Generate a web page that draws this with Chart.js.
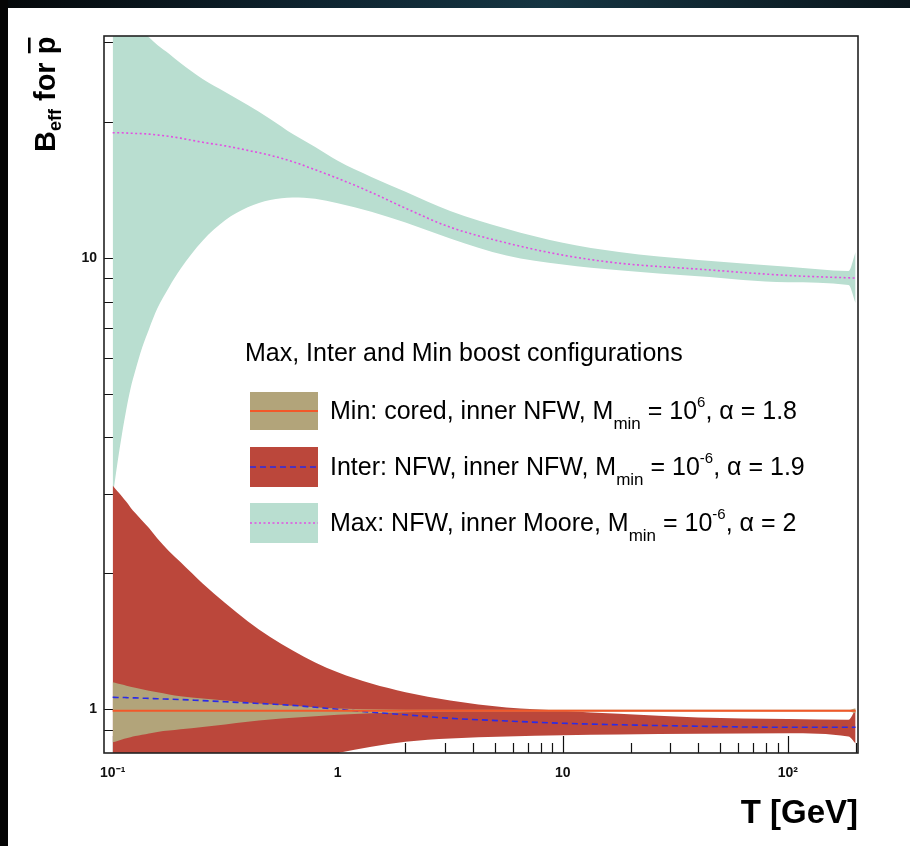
<!DOCTYPE html>
<html><head><meta charset="utf-8">
<script src="https://cdn.jsdelivr.net/npm/chart.js@4"></script>
<style>html,body{margin:0;padding:0;background:#fff;}canvas{display:block;}</style>
</head><body>
<canvas id="c" width="910" height="846"></canvas>
<script>
// ---------- data ----------
const T_GEV = [0.1, 0.105, 0.11, 0.115, 0.12, 0.126, 0.135, 0.145, 0.158, 0.178, 0.2, 0.251, 0.316, 0.398, 0.501, 0.631, 0.794, 1, 1.41, 2, 3.16, 5.62, 10, 17.8, 40, 100, 186, 200];

const MAX_HIGH    = [36.3, 35.6, 35.0, 34.3, 33.6, 33.0, 31.8, 30.8, 29.6, 28.3, 27.0, 24.9, 23.3, 21.8, 20.3, 18.8, 17.6, 16.4, 15.1, 14.0, 12.7, 11.6, 10.8, 10.3, 9.89, 9.55, 9.35, 10.3];
const MAX_CENTRAL = [18.92, 18.92, 18.92, 18.9, 18.88, 18.86, 18.84, 18.79, 18.71, 18.58, 18.41, 18.03, 17.70, 17.30, 16.87, 16.33, 15.67, 15.0, 13.96, 12.88, 11.69, 10.79, 10.14, 9.73, 9.44, 9.14, 9.03, 9.02];
const MAX_LOW     = [2.95, 3.51, 4.07, 4.62, 5.13, 5.62, 6.31, 6.95, 7.73, 8.61, 9.44, 10.91, 12.11, 12.94, 13.43, 13.61, 13.52, 13.21, 12.65, 11.97, 11.04, 10.12, 9.66, 9.38, 9.10, 8.83, 8.71, 7.94];

const INTER_HIGH    = [3.13, 3.04, 2.96, 2.88, 2.80, 2.72, 2.62, 2.52, 2.39, 2.24, 2.12, 1.90, 1.72, 1.567, 1.445, 1.349, 1.270, 1.208, 1.140, 1.091, 1.045, 1.009, 0.993, 0.977, 0.959, 0.951, 0.948, 1.0];
const INTER_CENTRAL = [1.063, 1.062, 1.062, 1.061, 1.060, 1.060, 1.058, 1.057, 1.055, 1.053, 1.051, 1.045, 1.039, 1.033, 1.027, 1.020, 1.010, 1.0, 0.985, 0.972, 0.955, 0.942, 0.931, 0.924, 0.917, 0.912, 0.912, 0.912];
const INTER_LOW     = [0.60, 0.603, 0.606, 0.609, 0.612, 0.615, 0.62, 0.625, 0.632, 0.642, 0.652, 0.672, 0.693, 0.714, 0.737, 0.758, 0.779, 0.80, 0.826, 0.847, 0.861, 0.870, 0.876, 0.879, 0.882, 0.885, 0.87, 0.84];

const MIN_HIGH    = [1.147, 1.140, 1.134, 1.128, 1.122, 1.116, 1.107, 1.099, 1.090, 1.078, 1.068, 1.056, 1.045, 1.035, 1.026, 1.018, 1.010, 1.004, 1.0, 0.998, 0.997, 0.997, 0.997, 0.997, 0.997, 0.997, 0.997, 1.005];
const MIN_CENTRAL = [0.993, 0.993, 0.993, 0.993, 0.993, 0.993, 0.993, 0.993, 0.993, 0.993, 0.993, 0.993, 0.993, 0.993, 0.993, 0.993, 0.993, 0.993, 0.993, 0.993, 0.993, 0.993, 0.993, 0.993, 0.993, 0.993, 0.993, 0.993];
const MIN_LOW     = [0.845, 0.851, 0.857, 0.862, 0.867, 0.872, 0.878, 0.884, 0.891, 0.897, 0.903, 0.914, 0.925, 0.938, 0.949, 0.957, 0.965, 0.972, 0.98, 0.985, 0.988, 0.989, 0.989, 0.989, 0.989, 0.989, 0.989, 0.98];

const X_TICKS  = [0.1,0.2,0.3,0.4,0.5,0.6,0.7,0.8,0.9,1,2,3,4,5,6,7,8,9,10,20,30,40,50,60,70,80,90,100,200];
const X_LABELS = {0.1:'10\u207B\u00B9', 1:'1', 10:'10', 100:'10\u00B2'};
const Y_TICKS  = [0.9,1,2,3,4,5,6,7,8,9,10,20,30];
const Y_LABELS = {1:'1', 10:'10'};

const X_TITLE = 'T [GeV]';
const LEGEND_TITLE = 'Max, Inter and Min boost configurations';
const LEGEND_LABELS = [
  [['Min: cored, inner NFW, M','n'],['min','sub'],[' = 10','n'],['6','sup'],[', \u03B1 = 1.8','n']],
  [['Inter: NFW, inner NFW, M','n'],['min','sub'],[' = 10','n'],['-6','sup'],[', \u03B1 = 1.9','n']],
  [['Max: NFW, inner Moore, M','n'],['min','sub'],[' = 10','n'],['-6','sup'],[', \u03B1 = 2','n']]
];

// ---------- styles ----------
const C_MAX = '#b9ded0', C_INTER = '#bb473b', C_MIN = '#b2a47a';
const C_MAXLINE = '#e24fe2', C_INTERLINE = '#2b2be6', C_MINLINE = '#f2582a';
const FONT = '"Liberation Sans", Arial, Helvetica, sans-serif';

const pts = ys => T_GEV.map((x, i) => ({x: x, y: ys[i]}));
const band = (ys, color, fillTarget, order) => ({
  data: pts(ys), borderWidth: 0, borderColor: 'rgba(0,0,0,0)', pointRadius: 0,
  backgroundColor: color, fill: fillTarget === null ? false : {target: fillTarget},
  cubicInterpolationMode: 'monotone', order: order
});
const central = (ys, color, dash, width, order) => ({
  data: pts(ys), borderWidth: width, borderColor: color, borderDash: dash,
  pointRadius: 0, fill: false, cubicInterpolationMode: 'monotone', order: order
});

const datasets = [
  band(MAX_LOW, C_MAX, null, 10),
  band(MAX_HIGH, C_MAX, 0, 10),
  band(INTER_LOW, C_INTER, null, 8),
  band(INTER_HIGH, C_INTER, 2, 8),
  band(MIN_LOW, C_MIN, null, 6),
  band(MIN_HIGH, C_MIN, 4, 6),
  central(MAX_CENTRAL, C_MAXLINE, [2, 2.5], 1.6, 3),
  central(INTER_CENTRAL, C_INTERLINE, [6, 4], 1.6, 2),
  central(MIN_CENTRAL, C_MINLINE, [], 2, 1)
];

function drawRich(ctx, x, y, parts, size) {
  let cx = x;
  for (const [t, k] of parts) {
    let fs = size, dy = 0;
    if (k === 'sub') { fs = size * 0.68; dy = size * 0.38; }
    if (k === 'sup') { fs = size * 0.6; dy = -size * 0.48; }
    ctx.font = fs + 'px ' + FONT;
    ctx.fillText(t, cx, y + dy);
    cx += ctx.measureText(t).width;
  }
}

const rootStyle = {
  id: 'rootStyle',
  beforeDraw(chart) {
    const ctx = chart.ctx;
    ctx.save();
    ctx.fillStyle = '#fff';
    ctx.fillRect(0, 0, chart.width, chart.height);
    const g = ctx.createLinearGradient(0, 0, chart.width, 0);
    g.addColorStop(0, '#05080a'); g.addColorStop(0.35, '#0e2430');
    g.addColorStop(0.6, '#153542'); g.addColorStop(1, '#0a161c');
    ctx.fillStyle = g;
    ctx.fillRect(0, 0, chart.width, 8);
    ctx.fillStyle = '#050505';
    ctx.fillRect(0, 0, 8, chart.height);
    ctx.restore();
  },
  beforeDatasetsDraw(chart) {
    const ctx = chart.ctx, a = chart.chartArea, xs = chart.scales.x, ys = chart.scales.y;
    ctx.save();
    ctx.strokeStyle = '#111'; ctx.lineWidth = 1.2;
    ctx.beginPath();
    for (const v of X_TICKS) {
      const p = Math.round(xs.getPixelForValue(v)) + 0.5;
      const major = Math.abs(Math.log10(v) - Math.round(Math.log10(v))) < 1e-9;
      ctx.moveTo(p, a.bottom); ctx.lineTo(p, a.bottom - (major ? 17 : 10));
    }
    for (const v of Y_TICKS) {
      const p = Math.round(ys.getPixelForValue(v)) + 0.5;
      ctx.moveTo(a.left, p); ctx.lineTo(a.left + 9, p);
    }
    ctx.stroke();
    ctx.restore();
  },
  afterDatasetsDraw(chart) {
    const ctx = chart.ctx, a = chart.chartArea;
    ctx.save();
    ctx.strokeStyle = '#222'; ctx.lineWidth = 1.6;
    ctx.strokeRect(a.left, a.top, a.right - a.left, a.bottom - a.top);
    ctx.restore();
  },
  afterDraw(chart) {
    const ctx = chart.ctx, a = chart.chartArea;
    ctx.save();
    ctx.fillStyle = '#000';
    ctx.font = 'bold 33px ' + FONT;
    ctx.textAlign = 'right'; ctx.textBaseline = 'alphabetic';
    ctx.fillText(X_TITLE, a.right, 823);
    ctx.save();
    ctx.translate(55, 152);
    ctx.rotate(-Math.PI / 2);
    ctx.textAlign = 'left';
    let cx = 0;
    ctx.font = 'bold 29px ' + FONT;
    ctx.fillText('B', cx, 0); cx += ctx.measureText('B').width;
    ctx.font = 'bold 18px ' + FONT;
    ctx.fillText('eff', cx, 6); cx += ctx.measureText('eff').width;
    ctx.font = 'bold 29px ' + FONT;
    ctx.fillText(' for ', cx, 0); cx += ctx.measureText(' for ').width;
    ctx.fillText('p', cx, 0);
    const pw = ctx.measureText('p').width;
    ctx.fillRect(cx + 1, -27, pw - 2, 2.6);
    ctx.restore();
    ctx.textAlign = 'left'; ctx.textBaseline = 'alphabetic';
    ctx.font = '25px ' + FONT;
    ctx.fillText(LEGEND_TITLE, 245, 361);
    const rows = [
      {top: 392, h: 38, fill: C_MIN, line: C_MINLINE, dash: [], lw: 2, base: 419},
      {top: 447, h: 40, fill: C_INTER, line: C_INTERLINE, dash: [6, 4], lw: 1.6, base: 475},
      {top: 503, h: 40, fill: C_MAX, line: C_MAXLINE, dash: [2, 2.5], lw: 1.6, base: 531}
    ];
    rows.forEach((r, i) => {
      ctx.fillStyle = r.fill;
      ctx.fillRect(250, r.top, 68, r.h);
      ctx.strokeStyle = r.line; ctx.lineWidth = r.lw; ctx.setLineDash(r.dash);
      ctx.beginPath(); ctx.moveTo(250, r.top + r.h / 2); ctx.lineTo(318, r.top + r.h / 2); ctx.stroke();
      ctx.setLineDash([]);
      ctx.fillStyle = '#000';
      drawRich(ctx, 330, r.base, LEGEND_LABELS[i], 25);
    });
    ctx.restore();
  }
};

new Chart(document.getElementById('c'), {
  type: 'line',
  data: {datasets: datasets},
  plugins: [rootStyle],
  options: {
    responsive: false, animation: false, devicePixelRatio: 1,
    layout: {padding: {left: 0, top: 36, right: 52, bottom: 0}},
    plugins: {legend: {display: false}, tooltip: {enabled: false}, title: {display: false}},
    scales: {
      x: {
        type: 'logarithmic', min: 0.0915, max: 205,
        grid: {display: false, drawTicks: false}, border: {display: false},
        afterBuildTicks: s => { s.ticks = X_TICKS.map(v => ({value: v})); },
        afterFit: s => { s.height = 93; },
        ticks: {autoSkip: false, maxRotation: 0, padding: 12, color: '#111',
          font: {family: FONT, size: 14, weight: 'bold'},
          callback: v => X_LABELS[v] !== undefined ? X_LABELS[v] : ''}
      },
      y: {
        type: 'logarithmic', min: 0.8, max: 31,
        grid: {display: false, drawTicks: false}, border: {display: false},
        afterBuildTicks: s => { s.ticks = Y_TICKS.map(v => ({value: v})); },
        afterFit: s => { s.width = 104; },
        ticks: {autoSkip: false, padding: 7, color: '#111',
          font: {family: FONT, size: 14, weight: 'bold'},
          callback: v => Y_LABELS[v] !== undefined ? Y_LABELS[v] : ''}
      }
    }
  }
});
</script>
</body></html>
